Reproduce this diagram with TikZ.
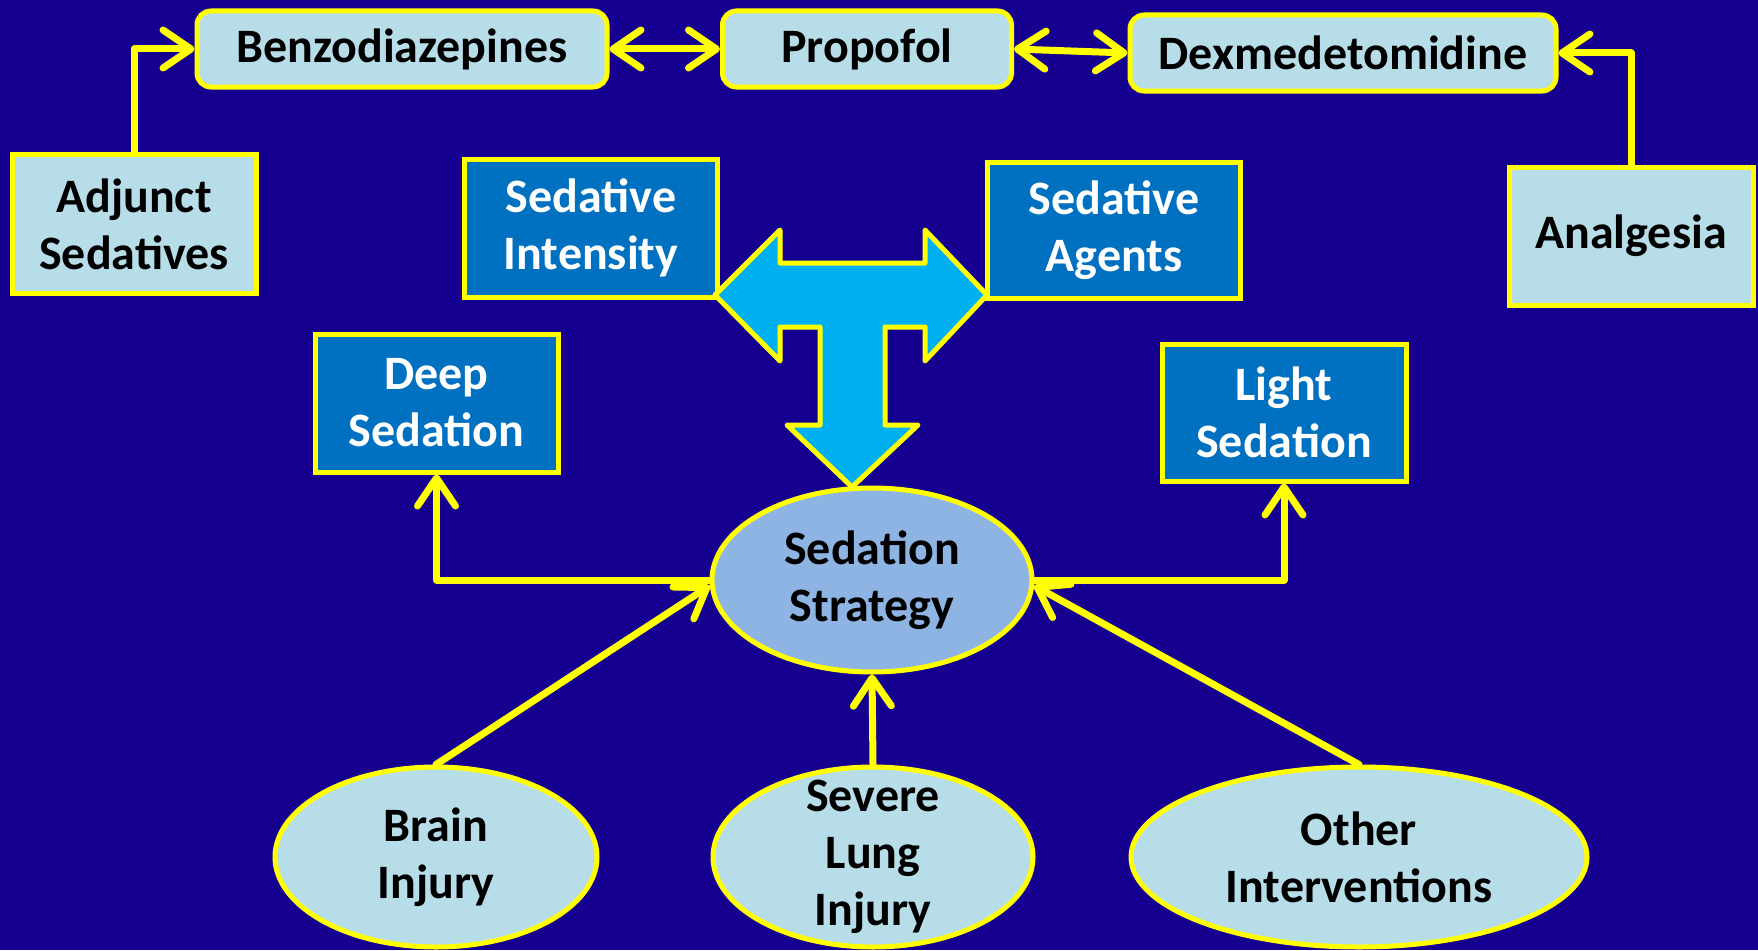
\documentclass[tikz,border=0pt]{standalone}
\usepackage{fontspec}
\setmainfont{Carlito}
\usetikzlibrary{arrows.meta,shapes.geometric}
\definecolor{bgblue}{RGB}{21,0,143}
\definecolor{lightfill}{RGB}{183,222,232}
\definecolor{darkfill}{RGB}{0,112,192}
\definecolor{hubfill}{RGB}{142,180,227}
\definecolor{bigarrow}{RGB}{0,176,240}
\definecolor{hilite}{RGB}{255,255,0}
\tikzset{
  lbl/.style={font=\fontsize{48}{57}\selectfont\bfseries, align=center, inner sep=0pt},
  lightbox/.style={lbl, draw=hilite, line width=5pt, fill=lightfill, text=black},
  drugbox/.style={lightbox, rounded corners=14pt},
  darkbox/.style={lbl, draw=hilite, line width=5pt, fill=darkfill, text=white},
  oval/.style={lbl, ellipse, draw=hilite, line width=5pt, fill=lightfill, text=black, inner ysep=-40pt},
  barb/.style={Straight Barb[length=28pt,width=38pt,line cap=round,line join=round]},
  conn/.style={draw=hilite, line width=7pt, line cap=round, line join=round,
    arrows={-Straight Barb[length=28pt,width=38pt,line cap=round,line join=round]}},
  biconn/.style={conn, arrows={Straight Barb[length=28pt,width=38pt,line cap=round,line join=round]-Straight Barb[length=28pt,width=38pt,line cap=round,line join=round]}}
}
\begin{document}
\begin{tikzpicture}[x=1pt,y=-1pt]
  % page and background
  \fill[bgblue] (0,0) rectangle (1758,950);
  \useasboundingbox (0,0) rectangle (1758,950);

  % drug boxes along the top
  \node[drugbox, minimum width=410pt, minimum height=76pt] (benzo) at (402,49) {Benzodiazepines};
  \node[drugbox, minimum width=289pt, minimum height=76pt] (prop) at (867,49) {Propofol};
  \node[drugbox, minimum width=426pt, minimum height=76pt] (dex) at (1343,53) {Dexmedetomidine};

  % side boxes
  \node[lightbox, minimum width=244pt, minimum height=139pt] (adj) at (134,224) {Adjunct\\Sedatives};
  \node[lightbox, minimum width=244pt, minimum height=138pt] (anal) at (1631,236) {Analgesia};

  % dark boxes
  \node[darkbox, minimum width=253pt, minimum height=138pt] (inten) at (591,228) {Sedative\\Intensity};
  \node[darkbox, minimum width=253pt, minimum height=136pt] (agents) at (1114,230) {Sedative\\Agents};
  \node[darkbox, minimum width=243pt, minimum height=138pt] (deep) at (436.5,403) {Deep\\Sedation};
  \node[darkbox, minimum width=244pt, minimum height=137pt] (light) at (1284,412.5) {Light\\Sedation};

  % central strategy ellipse
  \node[oval, fill=hubfill, minimum width=320pt, minimum height=184pt] (strat) at (872,580) {Sedation\\Strategy};

  % bottom ellipses
  \node[oval, minimum width=322pt, minimum height=180pt] (brain) at (436,857) {Brain\\Injury};
  \node[oval, minimum width=320pt, minimum height=180pt] (lung) at (873,857) {Severe\\Lung\\Injury};
  \node[oval, minimum width=456pt, minimum height=180pt] (other) at (1359,857) {Other\\Interventions};

  % T-shaped block arrow between the dark boxes and the strategy
  \draw[hilite, line width=5pt, line join=round, fill=bigarrow]
    (715,295) -- (780,230) -- (780,263) -- (925,263) -- (925,230) -- (987,295)
    -- (925,361) -- (925,327) -- (885,327) -- (885,425) -- (918,425) -- (852,487)
    -- (787,425) -- (820,425) -- (820,327) -- (780,327) -- (780,361) -- cycle;

  % connectors
  \draw[conn] (adj.north) |- (benzo.west);
  \draw[conn] (anal.north) |- (dex.east);
  \draw[biconn] (benzo.east) -- (prop.west);
  \draw[biconn] (prop.east) -- (dex.west);
  \draw[conn] (strat.west) -| (deep.south);
  \draw[conn] (strat.east) -| (light.south);
  \draw[conn] (brain.north) -- (strat.182);
  \draw[conn] (other.north) -- (strat.-2);
  \draw[conn] (lung.north) -- (strat.south);
\end{tikzpicture}
\end{document}
